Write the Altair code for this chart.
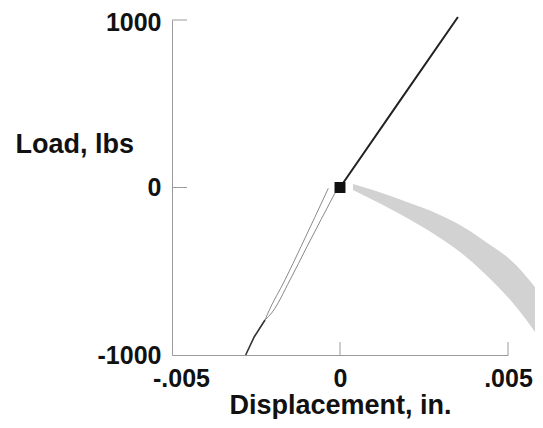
import altair as alt
import pandas as pd

# Upper branch, solid dark line
upper_x = [0.0, 0.00175, 0.00351]
upper_y = [0, 508, 1018]

# Lower branch drawn as two thin parallel grey lines
lineA_x = [-0.000348, -0.001161, -0.001637, -0.002143, -0.002232]
lineA_y = [-5, -353, -552, -749, -791]
lineB_x = [-0.000149, -0.000982, -0.001488, -0.002033, -0.002232]
lineB_y = [-33, -353, -552, -749, -791]

# Solid end of the lower branch
lower_x = [-0.002232, -0.002551, -0.002807]
lower_y = [-791, -891, -1000]

# Grey band
band_x = [0.000387, 0.000982, 0.001994, 0.002976, 0.003571, 0.004256, 0.005268, 0.005655, 0.006042, 0.006548]
band_hi = [21, -15, -87, -164, -224, -313, -469, -558, -660, -821]
band_lo = [-15, -75, -182, -301, -385, -504, -719, -821, -940, -1137]

# Origin marker
point_x = [0.0]
point_y = [0]

x_ticks = [-0.005, 0, 0.005]
y_ticks = [-1000, 0, 1000]

FONT = "Liberation Sans"
AX_COLOR = "#9a9a9a"

xs = alt.Scale(domain=[-0.005, 0.005], nice=False, zero=False)
ys = alt.Scale(domain=[-1000, 1000], nice=False, zero=False)

x_axis = alt.Axis(
    values=x_ticks, ticks=False, tickSize=0, grid=False, domainColor=AX_COLOR, domainWidth=1,
    labelExpr="datum.value == 0 ? '0' : (datum.value < 0 ? '-' : '') + replace(format(abs(datum.value), '.3f'), '0.', '.')",
    labelFont=FONT, labelFontSize=25, labelFontWeight="bold", labelColor="#111",
    labelPadding=11, labelFlush=False,
    labelOffset={"condition": {"test": "datum.value < -0.004", "value": 9}, "value": 0},
    title="Displacement, in.", titleFont=FONT, titleFontSize=27, titleFontWeight="bold", titleColor="#111",
    titleAnchor="middle", titleAlign="center", titleBaseline="alphabetic", titleX=168, titleY=58,
)
y_axis = alt.Axis(
    values=y_ticks, ticks=False, tickSize=0, grid=False, domainColor=AX_COLOR, domainWidth=1,
    labelExpr="datum.value < 0 ? '-' + format(abs(datum.value), 'd') : format(datum.value, 'd')",
    labelFont=FONT, labelFontSize=25, labelFontWeight="bold", labelColor="#111",
    labelPadding=11, labelFlush=False,
    labelOffset={"condition": {"test": "datum.value > 900", "value": 2}, "value": 0},
    title="Load, lbs", titleFont=FONT, titleFontSize=27, titleFontWeight="bold", titleColor="#111",
    titleAngle=0, titleAlign="left", titleBaseline="alphabetic", titleX=-157, titleY=132,
)

band_df = pd.DataFrame({"x": band_x, "hi": band_hi, "lo": band_lo})
band = alt.Chart(band_df).mark_area(color="#d2d2d2", clip=False, interpolate="monotone").encode(
    x=alt.X("x:Q", scale=xs, axis=x_axis),
    y=alt.Y("hi:Q", scale=ys, axis=y_axis),
    y2="lo:Q",
)

def line_df(xv, yv):
    return pd.DataFrame({"x": xv, "y": yv, "o": list(range(len(xv)))})

upper = alt.Chart(line_df(upper_x, upper_y)).mark_line(color="#222", strokeWidth=2, clip=False).encode(
    x=alt.X("x:Q", scale=xs), y=alt.Y("y:Q", scale=ys), order="o:Q")
lineA = alt.Chart(line_df(lineA_x, lineA_y)).mark_line(color="#8a8a8a", strokeWidth=1, interpolate="monotone").encode(
    x=alt.X("x:Q", scale=xs), y=alt.Y("y:Q", scale=ys), order="o:Q")
lineB = alt.Chart(line_df(lineB_x, lineB_y)).mark_line(color="#8a8a8a", strokeWidth=1, interpolate="monotone").encode(
    x=alt.X("x:Q", scale=xs), y=alt.Y("y:Q", scale=ys), order="o:Q")
lower = alt.Chart(line_df(lower_x, lower_y)).mark_line(color="#333", strokeWidth=1.6).encode(
    x=alt.X("x:Q", scale=xs), y=alt.Y("y:Q", scale=ys), order="o:Q")

pt = alt.Chart(pd.DataFrame({"x": point_x, "y": point_y})).mark_point(
    shape="square", filled=True, color="#111", size=120, opacity=1).encode(
    x=alt.X("x:Q", scale=xs), y=alt.Y("y:Q", scale=ys))

# inward tick marks
xt = alt.Chart(pd.DataFrame({"t": x_ticks[1:]})).mark_rule(color=AX_COLOR, strokeWidth=1).encode(
    x=alt.X("t:Q", scale=xs), y=alt.value(335), y2=alt.value(322))
yt = alt.Chart(pd.DataFrame({"t": y_ticks[1:]})).mark_rule(color=AX_COLOR, strokeWidth=1).encode(
    y=alt.Y("t:Q", scale=ys), x=alt.value(0), x2=alt.value(15))

chart = alt.layer(band, lineA, lineB, lower, upper, xt, yt, pt).properties(
    width=336, height=335,
    autosize=alt.AutoSizeParams(type="none"),
    padding={"left": 164, "top": 12, "right": 27, "bottom": 64},
    background="white",
).configure_view(stroke=None)

chart.save("out.html", embed_options={"renderer": "svg", "actions": False})
